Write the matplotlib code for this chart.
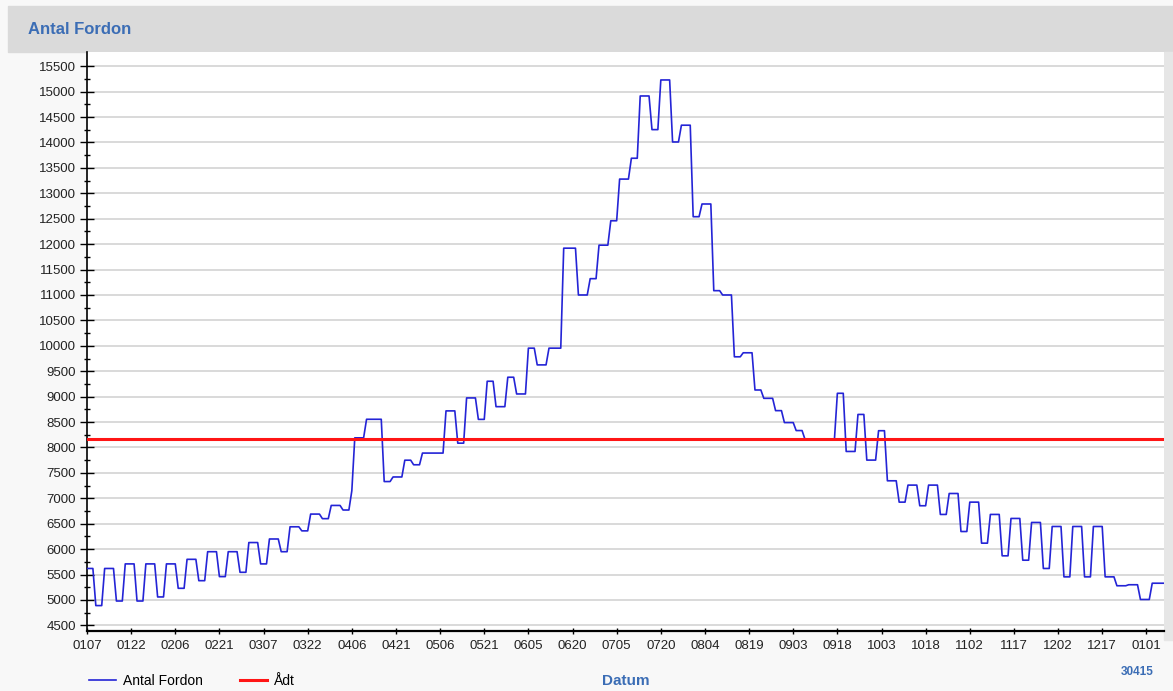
import numpy as np
import matplotlib
matplotlib.use("Agg")
import matplotlib.pyplot as plt
from matplotlib.patches import Rectangle

plt.rcParams['font.family'] = ['Liberation Sans', 'DejaVu Sans']

levels = [5620, 4890, 5620, 4980, 5710, 4980, 5710, 5060, 5710, 5230,
          5800, 5380, 5950, 5460, 5950, 5545, 6130, 5710, 6200, 5950,
          6440, 6360, 6690, 6600, 6860, 6770, 7150, 8190, 8555, 7330,
          7420, 7750, 7660, 7890, 8720, 8085, 8975, 8553, 9303, 8803,
          9382, 9053, 9954, 9625, 9954, 11921, 11000, 11321, 11980, 12460,
          13280, 13690, 14915, 14253, 15230, 14010, 14340, 12540, 12790, 11085,
          11000, 9784, 9863, 9131, 8967, 8725, 8490, 8333, 8160, 9066,
          7922, 8650, 7752, 8330, 7345, 6925, 7260, 6854, 7260, 6683,
          7095, 6347, 6925, 6118, 6683, 5869, 6604, 5783, 6525, 5620,
          6446, 5455, 6446, 5455, 6446, 5455, 5280, 5300, 5010, 5330]
run_days = [3, 3, 4, 3, 4, 3, 4, 3, 4, 3,
            4, 3, 4, 3, 4, 3, 4, 3, 4, 3,
            4, 3, 4, 3, 4, 3, 1, 4, 6, 3,
            4, 3, 3, 8, 4, 3, 4, 3, 3, 4,
            3, 4, 3, 4, 5, 5, 4, 3, 4, 3,
            4, 3, 4, 3, 4, 3, 4, 3, 4, 3,
            4, 3, 4, 3, 4, 3, 4, 3, 11, 3,
            4, 3, 4, 3, 4, 3, 4, 3, 4, 3,
            4, 3, 4, 3, 4, 3, 4, 3, 4, 3,
            4, 3, 4, 3, 4, 4, 4, 4, 4, 5]
adt = 8160

tick_labels = ['0107', '0122', '0206', '0221', '0307', '0322', '0406', '0421',
               '0506', '0521', '0605', '0620', '0705', '0720', '0804', '0819',
               '0903', '0918', '1003', '1018', '1102', '1117', '1202', '1217',
               '0101']

values = np.repeat(levels, run_days)
days = np.arange(len(values))

blue_txt = '#3b6db5'

fig = plt.figure(figsize=(11.73, 6.91), dpi=100)
fig.patch.set_facecolor('#f8f8f8')

# grey title band and right strip
fig.add_artist(Rectangle((8 / 1173, 1 - 52 / 691), 1, 46 / 691,
                         transform=fig.transFigure, color='#dadada', zorder=0))
fig.add_artist(Rectangle((1164 / 1173, 1 - 640 / 691), 1, 588 / 691,
                         transform=fig.transFigure, color='#e6e6e6', zorder=0))

fig.text(28 / 1173, 1 - 30 / 691, 'Antal Fordon', fontsize=12, weight='bold',
         color=blue_txt, va='center', ha='left')

ax = fig.add_axes([87 / 1173, 1 - 631 / 691, 1077 / 1173, 579 / 691])
ax.set_facecolor('white')

line1, = ax.plot(days, values, color='#2424d6', lw=1.2, zorder=3)
line2 = ax.axhline(adt, color='#ff1515', lw=2.2, zorder=4)

ax.set_xlim(0, 366)
ax.set_ylim(4390, 15780)
ax.set_yticks(np.arange(4500, 15501, 500))
ax.set_yticks(np.arange(4750, 15501, 500), minor=True)
ax.set_xticks(np.arange(0, 361, 15))
ax.set_xticklabels(tick_labels)

ax.yaxis.grid(True, color='#d9d9d9', lw=1.4)
ax.set_axisbelow(True)

for s in ['top', 'right']:
    ax.spines[s].set_visible(False)
ax.spines['left'].set_linewidth(1.2)
ax.spines['bottom'].set_linewidth(1.6)

ax.tick_params(axis='y', which='major', direction='inout', length=10, width=1,
               pad=3, labelsize=9.5, labelcolor='#222222')
ax.tick_params(axis='y', which='minor', direction='inout', length=4, width=1)
ax.tick_params(axis='x', which='major', direction='inout', length=5, width=1,
               pad=4, labelsize=9.5, labelcolor='#222222')

ax.set_xlabel('Datum', fontsize=11, weight='bold', color=blue_txt, labelpad=16)

fig.legend([line1, line2], ['Antal Fordon', 'Ådt'], loc='center left',
           bbox_to_anchor=(76 / 1173, 1 - 681 / 691), ncol=2, frameon=False,
           fontsize=10, handlelength=1.95, handletextpad=0.5, columnspacing=2.7)

fig.text(1137 / 1173, 1 - 672 / 691, '30415', fontsize=8.5, weight='bold',
         color=blue_txt, ha='center', va='center')

fig.savefig('out.png', dpi=100, facecolor=fig.get_facecolor())
